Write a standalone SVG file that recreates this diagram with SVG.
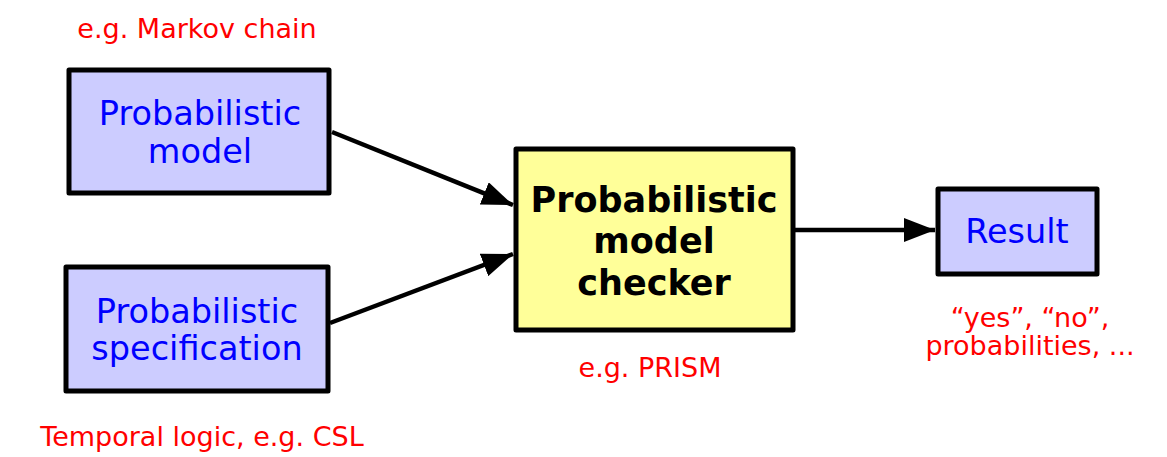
<svg xmlns="http://www.w3.org/2000/svg" width="1167" height="457" viewBox="0 0 1167 457">
  <style>
    .box { fill: #ccccff; stroke: #000; stroke-width: 5; stroke-linejoin: round; }
    .main { fill: #ffff99; stroke: #000; stroke-width: 5; stroke-linejoin: round; }
    .lbl { font-family: "DejaVu Sans", Verdana, sans-serif; font-size: 33.5px; fill: #0000ff; text-anchor: middle; }
    .bold { font-family: "DejaVu Sans", Verdana, sans-serif; font-size: 35px; font-weight: bold; fill: #000; text-anchor: middle; }
    .note { font-family: "DejaVu Sans", Verdana, sans-serif; font-size: 27px; fill: #ff0000; text-anchor: middle; }
    .conn { stroke: #000; stroke-width: 4.5; fill: none; marker-end: url(#arr); }
  </style>
  <defs>
    <marker id="arr" markerUnits="userSpaceOnUse" markerWidth="32" markerHeight="24" refX="31" refY="12" orient="auto">
      <path d="M0,0 L31,12 L0,24 z" fill="#000"/>
    </marker>
  </defs>
  <rect width="1167" height="457" fill="#fff"/>

  <g id="connectors">
    <line class="conn" x1="332" y1="132" x2="513" y2="205"/>
    <line class="conn" x1="330" y1="323" x2="513" y2="254"/>
    <line class="conn" x1="795" y1="230" x2="935" y2="230"/>
  </g>

  <g id="model">
    <rect class="box" x="69" y="70" width="260" height="123"/>
    <text class="lbl" x="200" y="125">Probabilistic</text>
    <text class="lbl" x="200" y="163">model</text>
  </g>
  <text class="note" x="197" y="38">e.g. Markov chain</text>

  <g id="spec">
    <rect class="box" x="66" y="267" width="262" height="124"/>
    <text class="lbl" x="197" y="323">Probabilistic</text>
    <text class="lbl" x="197" y="360">specification</text>
  </g>
  <text class="note" x="202" y="446">Temporal logic, e.g. CSL</text>

  <g id="checker">
    <rect class="main" x="516" y="149" width="277" height="181"/>
    <text class="bold" x="654" y="212">Probabilistic</text>
    <text class="bold" x="654" y="253">model</text>
    <text class="bold" x="654" y="295">checker</text>
  </g>
  <text class="note" x="650" y="377">e.g. PRISM</text>

  <g id="result">
    <rect class="box" x="938" y="189" width="159" height="85"/>
    <text class="lbl" x="1017" y="243">Result</text>
  </g>
  <text class="note" x="1030" y="327">“yes”, “no”,</text>
  <text class="note" x="1030" y="355">probabilities, ...</text>
</svg>
